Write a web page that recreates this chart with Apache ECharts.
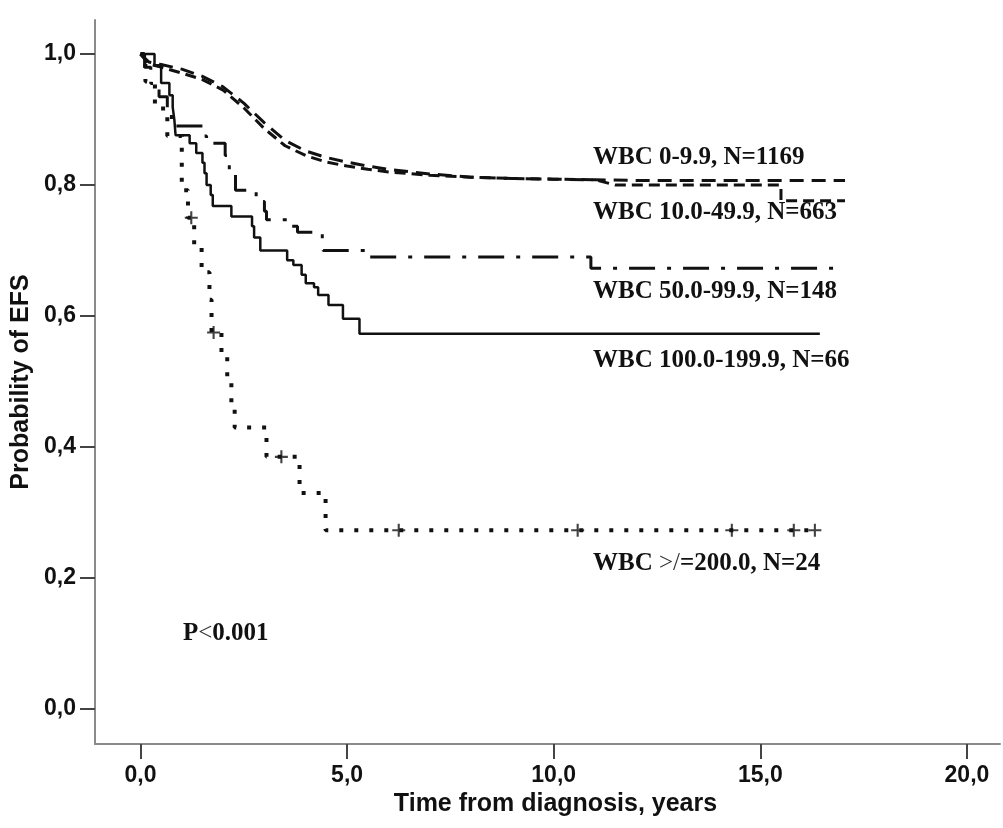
<!DOCTYPE html>
<html>
<head>
<meta charset="utf-8">
<title>EFS by WBC</title>
<script src="https://cdn.jsdelivr.net/npm/echarts/dist/echarts.min.js"></script>
<style>
  html, body { margin: 0; padding: 0; background: #fff; }
  #chart { width: 1003px; height: 828px; }
</style>
</head>
<body>
<div id="chart"></div>
<script>
// ticks
var xTicks = [0, 5, 10, 15, 20]
var yTicks = [0, 0.2, 0.4, 0.6, 0.8, 1.0]

// WBC 0-9.9, N=1169 (smooth looking, many small steps)
var tA = [0, 0.2, 0.5, 1, 1.5, 2, 2.5, 3, 3.5, 4, 4.5, 5, 5.5, 6, 7, 8, 9, 10, 11, 12, 14, 17.05]
var pA = [1, 0.988, 0.984, 0.977, 0.966, 0.95, 0.925, 0.895, 0.868, 0.852, 0.842, 0.835, 0.829, 0.824, 0.817, 0.812, 0.81, 0.809, 0.808, 0.807, 0.807, 0.807]

// WBC 10.0-49.9, N=663
var tB = [0, 0.2, 0.5, 1, 1.5, 2, 2.5, 3, 3.5, 4, 4.5, 5, 5.5, 6, 7, 8, 9, 10, 11, 11.5, 15.5, 15.5, 17.05]
var pB = [1, 0.985, 0.98, 0.971, 0.961, 0.945, 0.918, 0.886, 0.86, 0.845, 0.835, 0.829, 0.824, 0.82, 0.815, 0.812, 0.81, 0.809, 0.808, 0.8, 0.8, 0.776, 0.776]

// WBC 50.0-99.9, N=148 (step)
var tC = [0, 0.1, 0.25, 0.45, 0.65, 0.75, 1.5, 1.6, 2.05, 2.15, 2.3, 2.8, 3.0, 3.05, 3.55, 3.8, 4.4, 4.42, 5.5, 10.9, 17.05]
var pC = [1, 0.98, 0.955, 0.935, 0.91, 0.89, 0.875, 0.864, 0.845, 0.818, 0.792, 0.775, 0.76, 0.747, 0.737, 0.728, 0.71, 0.7, 0.69, 0.673, 0.673]

// WBC 100.0-199.9, N=66 (step)
var tD = [0, 0.34, 0.5, 0.7, 0.78, 0.82, 0.85, 1.19, 1.35, 1.5, 1.55, 1.6, 1.7, 1.75, 2.2, 2.7, 2.75, 2.9, 3.55, 3.7, 3.9, 4.0, 4.2, 4.3, 4.55, 4.9, 5.3, 16.44]
var pD = [1, 0.983, 0.956, 0.937, 0.919, 0.9, 0.876, 0.864, 0.849, 0.834, 0.818, 0.8, 0.785, 0.768, 0.752, 0.737, 0.72, 0.7, 0.685, 0.678, 0.663, 0.65, 0.644, 0.632, 0.617, 0.596, 0.573, 0.573]

// WBC >/=200.0, N=24 (step)
var tE = [0, 0.12, 0.35, 0.65, 1.0, 1.15, 1.3, 1.48, 1.67, 1.72, 1.96, 2.1, 2.2, 2.28, 3.05, 3.85, 4.48, 16.38]
var pE = [1, 0.958, 0.917, 0.875, 0.792, 0.75, 0.708, 0.667, 0.625, 0.575, 0.54, 0.5, 0.46, 0.43, 0.385, 0.33, 0.273, 0.273]

// censored cases on the >=200 curve
var censorT = [1.23, 1.77, 3.41, 6.25, 10.58, 14.31, 15.81, 16.32]
var censorP = [0.75, 0.575, 0.385, 0.273, 0.273, 0.273, 0.273, 0.273]

function zip(a, b) {
  return a.map(function (v, i) { return [v, b[i]] })
}

var plusPath = 'path://M4.2,0H5.8V4.2H10V5.8H5.8V10H4.2V5.8H0V4.2H4.2Z'
var serif = "'Liberation Serif', 'Times New Roman', serif"
var sans = "'Liberation Sans Narrow', 'Arial Narrow', 'Liberation Sans', Arial, sans-serif"

var chart = echarts.init(document.getElementById('chart'))

// curve labels, y is the text centre; {t|..} parts are drawn thin
function label(text, x, y) {
  return {
    type: 'text',
    left: x,
    top: y - 12,
    style: {
      text: text,
      font: 'bold 25px ' + serif,
      fill: '#111',
      rich: {
        t: { fontFamily: serif, fontSize: 25, fontWeight: 'normal', fill: '#333' }
      }
    }
  }
}

chart.setOption({
  animation: false,
  grid: { left: 95, right: 3, top: 20, bottom: 84 },
  xAxis: {
    type: 'value',
    min: -1.1,
    max: 20.8,
    name: 'Time from diagnosis, years',
    nameLocation: 'middle',
    nameGap: 44,
    nameTextStyle: { fontSize: 25, fontWeight: 'bold', color: '#111', fontFamily: sans, padding: [0, 0, 0, 16] },
    axisLine: { onZero: false, lineStyle: { color: '#8a8a8a', width: 2 } },
    axisTick: { customValues: xTicks, length: 15, lineStyle: { color: '#444', width: 2 } },
    axisLabel: {
      customValues: xTicks,
      margin: 20,
      fontSize: 23,
      fontWeight: 'bold',
      color: '#111',
      fontFamily: "'Liberation Sans', Arial, sans-serif",
      formatter: function (v) { return v.toFixed(1).replace('.', ',') }
    },
    splitLine: { show: false }
  },
  yAxis: {
    type: 'value',
    min: -0.0534,
    max: 1.052,
    name: 'Probability of EFS',
    nameLocation: 'middle',
    nameGap: 60,
    nameTextStyle: { fontSize: 25, fontWeight: 'bold', color: '#111', fontFamily: sans },
    axisLine: { show: true, onZero: false, lineStyle: { color: '#8a8a8a', width: 2 } },
    axisTick: { show: true, customValues: yTicks, length: 15, lineStyle: { color: '#444', width: 2 } },
    axisLabel: {
      customValues: yTicks,
      margin: 19,
      fontSize: 23,
      fontWeight: 'bold',
      color: '#111',
      fontFamily: "'Liberation Sans', Arial, sans-serif",
      formatter: function (v) { return v.toFixed(1).replace('.', ',') }
    },
    splitLine: { show: false }
  },
  series: [
    {
      name: 'WBC 0-9.9',
      type: 'line',
      data: zip(tA, pA),
      showSymbol: false,
      lineStyle: { color: '#111', width: 3, type: [14, 8] }
    },
    {
      name: 'WBC 10.0-49.9',
      type: 'line',
      data: zip(tB, pB),
      showSymbol: false,
      lineStyle: { color: '#111', width: 3, type: [11, 6] }
    },
    {
      name: 'WBC 50.0-99.9',
      type: 'line',
      step: 'end',
      data: zip(tC, pC),
      showSymbol: false,
      lineStyle: { color: '#111', width: 3, type: [26, 12, 4, 12] }
    },
    {
      name: 'WBC 100.0-199.9',
      type: 'line',
      step: 'end',
      data: zip(tD, pD),
      showSymbol: false,
      lineStyle: { color: '#111', width: 2.5 }
    },
    {
      name: 'WBC >=200.0',
      type: 'line',
      step: 'end',
      data: zip(tE, pE),
      showSymbol: false,
      lineStyle: { color: '#111', width: 4, type: [4, 11] }
    },
    {
      name: 'censored',
      type: 'scatter',
      data: zip(censorT, censorP),
      symbol: plusPath,
      symbolSize: 13,
      itemStyle: { color: '#111' }
    }
  ],
  graphic: [
    label('WBC 0-9.9, N=1169', 593, 157),
    label('WBC 10.0-49.9, N=663', 593, 212),
    label('WBC 50.0-99.9, N=148', 593, 291),
    label('WBC 100.0-199.9, N=66', 593, 360),
    label('WBC {t|>/}=200.0, N=24', 593, 563),
    label('P{t|<}0.001', 183, 633)
  ]
})
</script>
</body>
</html>
